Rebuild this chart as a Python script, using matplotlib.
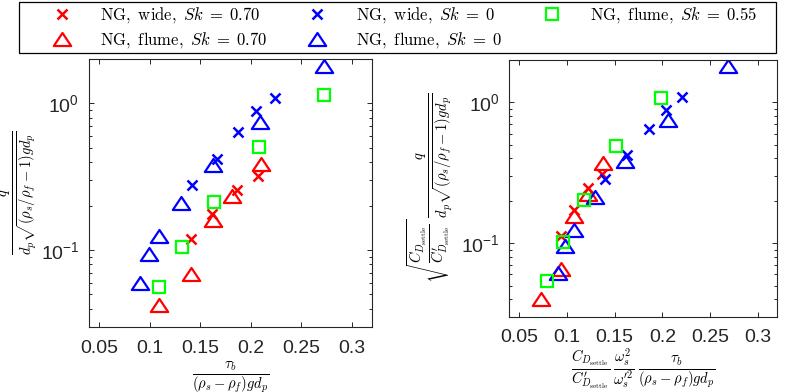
import numpy as np
import matplotlib
matplotlib.use('Agg')
from matplotlib import pyplot as plt
from matplotlib.path import Path
from matplotlib.patches import Rectangle
from matplotlib.ticker import FixedLocator, FixedFormatter, LogLocator, NullFormatter

plt.rcParams['font.family'] = ['Liberation Sans', 'DejaVu Sans']
plt.rcParams['mathtext.fontset'] = 'cm'

# ---- data ----
# left panel: raw Shields number
L_wide70_x = [0.1407, 0.162, 0.1866, 0.2073]
L_wide70_y = [0.119, 0.176, 0.258, 0.323]
L_flume70_x = [0.1089, 0.1407, 0.163, 0.1817, 0.2097]
L_flume70_y = [0.0427, 0.0685, 0.160, 0.236, 0.388]
L_wide0_x = [0.1417, 0.1663, 0.1879, 0.2057, 0.224]
L_wide0_y = [0.280, 0.416, 0.640, 0.886, 1.09]
L_flume0_x = [0.0902, 0.0997, 0.1089, 0.1312, 0.163, 0.209, 0.2729]
L_flume0_y = [0.060, 0.094, 0.125, 0.209, 0.378, 0.749, 1.80]
L_flume55_x = [0.1092, 0.1318, 0.1633, 0.2086, 0.2729]
L_flume55_y = [0.0561, 0.106, 0.212, 0.505, 1.14]

# right panel: corrected Shields number
R_wide70_x = [0.0935, 0.1075, 0.1226, 0.1373]
R_wide70_y = [0.113, 0.171, 0.246, 0.311]
R_flume70_x = [0.0729, 0.0935, 0.1072, 0.1219, 0.138]
R_flume70_y = [0.0402, 0.0657, 0.155, 0.224, 0.370]
R_wide0_x = [0.1397, 0.1627, 0.186, 0.2034, 0.2202]
R_wide0_y = [0.287, 0.420, 0.646, 0.887, 1.10]
R_flume0_x = [0.0911, 0.0986, 0.1079, 0.1295, 0.161, 0.2058, 0.2682]
R_flume0_y = [0.0612, 0.0947, 0.124, 0.212, 0.383, 0.745, 1.80]
R_flume55_x = [0.0791, 0.0959, 0.1185, 0.1517, 0.198]
R_flume55_y = [0.0537, 0.1017, 0.203, 0.487, 1.08]

labels = [r'$\mathrm{NG,\ wide,\ }Sk\;=\;0.70$',
          r'$\mathrm{NG,\ flume,\ }Sk\;=\;0.70$',
          r'$\mathrm{NG,\ wide,\ }Sk\;=\;0$',
          r'$\mathrm{NG,\ flume,\ }Sk\;=\;0$',
          r'$\mathrm{NG,\ flume,\ }Sk\;=\;0.55$']

# wide triangle like matlab's
tri = Path([(-1, -0.75), (1, -0.75), (0, 0.75), (-1, -0.75)],
           [Path.MOVETO, Path.LINETO, Path.LINETO, Path.CLOSEPOLY])

fig = plt.figure(figsize=(7.85, 3.92), dpi=100)
ax1 = fig.add_axes([0.1134, 0.1658, 0.3605, 0.683])
ax2 = fig.add_axes([0.6488, 0.192, 0.3414, 0.655])

gray = '#262626'


def draw(ax, d):
    h = []
    h += ax.plot(d[0], d[1], 'x', color='r', ms=7, mew=1.8, label=labels[0])
    h += ax.plot(d[2], d[3], ls='none', marker=tri, mfc='none', mec='r', ms=12.5, mew=1.6, label=labels[1])
    h += ax.plot(d[4], d[5], 'x', color='b', ms=7, mew=1.8, label=labels[2])
    h += ax.plot(d[6], d[7], ls='none', marker=tri, mfc='none', mec='b', ms=12.5, mew=1.6, label=labels[3])
    h += ax.plot(d[8], d[9], 's', mfc='none', mec=(0, 1, 0), ms=8.5, mew=1.6, label=labels[4])
    ax.set_yscale('log')
    ax.set_xlim(0.04, 0.32)
    ax.set_ylim(0.03, 2)
    ax.set_xticks([0.05, 0.1, 0.15, 0.2, 0.25, 0.3])
    ax.set_xticklabels(['0.05', '0.1', '0.15', '0.2', '0.25', '0.3'])
    ax.yaxis.set_major_locator(FixedLocator([0.1, 1]))
    ax.yaxis.set_major_formatter(FixedFormatter([r'$\mathregular{10^{-1}}$', r'$\mathregular{10^{0}}$']))
    ax.yaxis.set_minor_locator(LogLocator(base=10, subs=np.arange(2, 10)))
    ax.yaxis.set_minor_formatter(NullFormatter())
    ax.tick_params(which='both', direction='in', top=True, right=True, colors=gray, labelsize=14)
    ax.tick_params(which='major', length=3.5, width=0.7)
    ax.tick_params(which='minor', length=2.5, width=0.7)
    ax.tick_params(axis='x', pad=9)
    ax.tick_params(axis='y', pad=7)
    for s in ax.spines.values():
        s.set_color(gray)
        s.set_linewidth(0.8)
    return h


h = draw(ax1, [L_wide70_x, L_wide70_y, L_flume70_x, L_flume70_y, L_wide0_x, L_wide0_y,
               L_flume0_x, L_flume0_y, L_flume55_x, L_flume55_y])
ax1.set_xlabel(r'$\frac{\tau_b}{(\rho_s-\rho_f)gd_p}$', fontsize=15, labelpad=2)
ax1.set_ylabel(r'$\frac{q}{d_p\sqrt{(\rho_s/\rho_f-1)gd_p}}$', fontsize=15, labelpad=1)

draw(ax2, [R_wide70_x, R_wide70_y, R_flume70_x, R_flume70_y, R_wide0_x, R_wide0_y,
           R_flume0_x, R_flume0_y, R_flume55_x, R_flume55_y])
ax2.set_xlabel(r'$\frac{C_{D_\mathrm{settle}}}{C^{\prime}_{D_\mathrm{settle}}}\,'
               r'\frac{\omega_s^2}{\omega_s^{\prime 2}}\,\frac{\tau_b}{(\rho_s-\rho_f)gd_p}$',
               fontsize=15, labelpad=0)
ax2.set_ylabel(r'$\sqrt{\frac{C_{D_\mathrm{settle}}}{C^{\prime}_{D_\mathrm{settle}}}}\,'
               r'\frac{q}{d_p\sqrt{(\rho_s/\rho_f-1)gd_p}}$', fontsize=15, labelpad=4)

# legend box across the top
fig.patches.append(Rectangle((19 / 785, 1 - 53 / 392), 757 / 785, 51 / 392,
                             transform=fig.transFigure, fill=False, ec='k', lw=0.9))
fig.legend(h, labels, ncol=3, loc='upper left', bbox_to_anchor=(45 / 785, 1 - 5 / 392),
           frameon=False, fontsize=12, handlelength=2, handletextpad=1.3,
           columnspacing=2.0, labelspacing=0.3, borderpad=0, borderaxespad=0)

fig.savefig('out.png', dpi=100)
